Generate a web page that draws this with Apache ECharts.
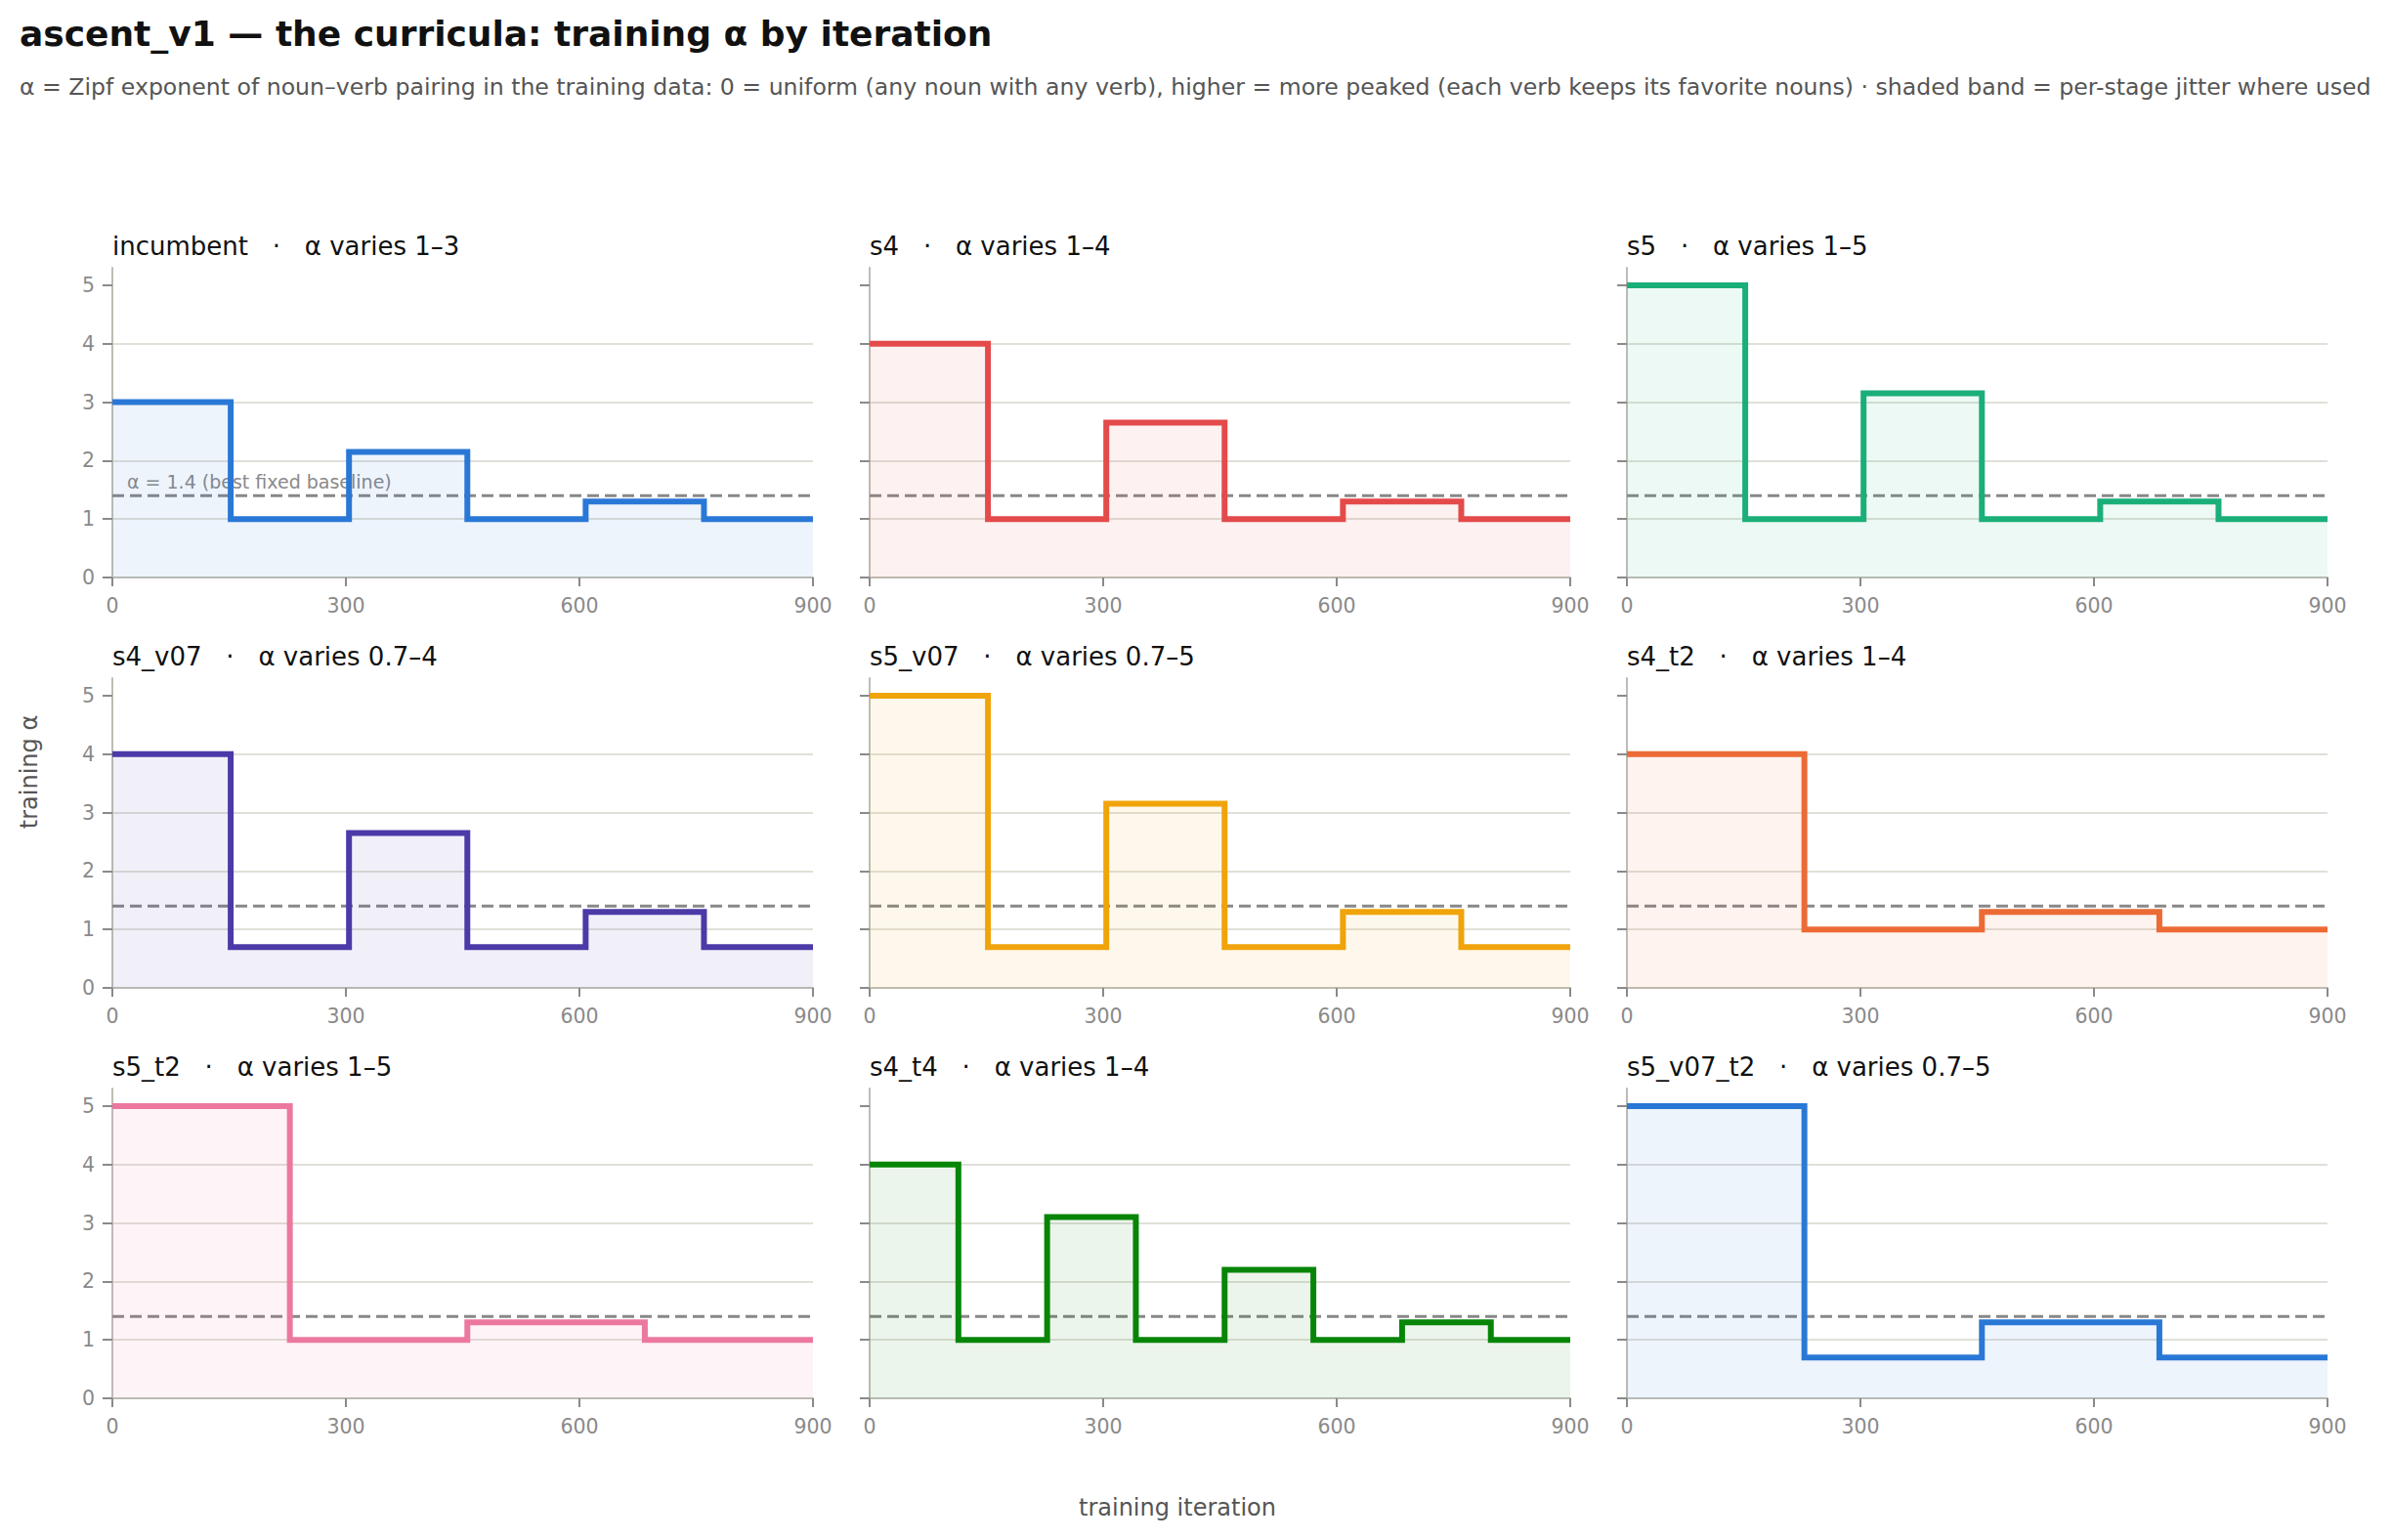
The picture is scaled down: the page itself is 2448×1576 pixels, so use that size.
<!DOCTYPE html>
<html><head><meta charset="utf-8">
<script src="https://cdn.jsdelivr.net/npm/echarts@6/dist/echarts.min.js"></script>
<style>html,body{margin:0;padding:0;background:#fff}#c{width:2448px;height:1576px}</style>
</head><body><div id="c"></div>
<script>
// ---- data ----
const panelNames = ['incumbent','s4','s5','s4_v07','s5_v07','s4_t2','s5_t2','s4_t4','s5_v07_t2'];
const alphaRanges = ['1–3','1–4','1–5','0.7–4','0.7–5','1–4','1–5','1–4','0.7–5'];
const panelColors = ['#2a78d6','#e44a4a','#1aaf78','#4b3aa8','#f0a30a','#ec6a35','#ec78a0','#078507','#2a78d6'];
// stage start iterations (last entry = end of axis)
const itersSix = [0,152,304,456,608,760,900];
const itersFour = [0,228,456,684,900];
const itersEight = [0,114,228,342,456,570,684,798,900];
// alpha per stage (last value repeated to close the final stage)
const incumbent = [3,1,2.15,1,1.3,1,1];
const s4 = [4,1,2.65,1,1.3,1,1];
const s5 = [5,1,3.15,1,1.3,1,1];
const s4_v07 = [4,0.7,2.65,0.7,1.3,0.7,0.7];
const s5_v07 = [5,0.7,3.15,0.7,1.3,0.7,0.7];
const s4_t2 = [4,1,1.3,1,1];
const s5_t2 = [5,1,1.3,1,1];
const s4_t4 = [4,1,3.1,1,2.2,1,1.3,1,1];
const s5_v07_t2 = [5,0.7,1.3,0.7,0.7];
const panelValues = [incumbent,s4,s5,s4_v07,s5_v07,s4_t2,s5_t2,s4_t4,s5_v07_t2];
const panelIters = [itersSix,itersSix,itersSix,itersSix,itersSix,itersFour,itersFour,itersEight,itersFour];
const baselineAlpha = 1.4;
const baselineText = 'α = 1.4 (best fixed baseline)';
const xTicks = [0,300,600,900];
const yTicks = [0,1,2,3,4,5];
const titleText = 'ascent_v1 — the curricula: training α by iteration';
const subtitleText = 'α = Zipf exponent of noun–verb pairing in the training data: 0 = uniform (any noun with any verb), higher = more peaked (each verb keeps its favorite nouns) · shaded band = per-stage jitter where used';
const xName = 'training iteration';
const yName = 'training α';

// ---- chart ----
const FF = 'DejaVu Sans';
const chart = echarts.init(document.getElementById('c'), null, {renderer:'svg'});
const grids=[], xAxes=[], yAxes=[], series=[], texts=[];
const colLefts = [115, 890, 1665];
function hexA(hex,a){const n=parseInt(hex.slice(1),16);return `rgba(${n>>16&255},${n>>8&255},${n&255},${a})`;}
panelNames.forEach((name,i)=>{
  const r=Math.floor(i/3), c=i%3;
  const left=colLefts[c], top=274+420*r;
  grids.push({left:left, top:top, width:717, height:317});
  xAxes.push({type:'value', gridIndex:i, min:xTicks[0], max:xTicks[xTicks.length-1], interval:300,
    axisLine:{show:true, onZero:false, lineStyle:{color:'#bdbdb5', width:2}},
    axisTick:{show:true, length:9, lineStyle:{color:'#8a8a8a', width:2}},
    axisLabel:{color:'#8a8a8a', fontSize:20.5, margin:18, fontFamily:FF},
    splitLine:{show:false}});
  yAxes.push({type:'value', gridIndex:i, min:0, max:5.3, interval:1,
    axisLine:{show:true, onZero:false, lineStyle:{color:'#bdbdb5', width:2}},
    axisTick:{show:true, length:10, customValues:yTicks, lineStyle:{color:'#8a8a8a', width:2}},
    axisLabel:{show:c===0, customValues:yTicks, color:'#8a8a8a', fontSize:20.5, margin:18, fontFamily:FF},
    splitLine:{show:true, showMaxLine:false, lineStyle:{color:'#e0e0d8', width:2}}});
  series.push({type:'line', xAxisIndex:i, yAxisIndex:i, z:1, silent:true, symbol:'none',
    data:[[xTicks[0],baselineAlpha],[xTicks[xTicks.length-1],baselineAlpha]],
    lineStyle:{color:'#888888', width:3, type:[12,6]}});
  const iters=panelIters[i], vals=panelValues[i];
  series.push({type:'line', name:name, xAxisIndex:i, yAxisIndex:i, z:3, step:'end', symbol:'none',
    data: iters.map((x,k)=>[x, vals[k]]),
    lineStyle:{color:panelColors[i], width:6, join:'miter', cap:'butt'},
    areaStyle:{color:hexA(panelColors[i],0.11), origin:'start'}});
  texts.push({type:'text', x:left, y:top-22, z:5, silent:true,
    style:{text:name+'   ·   α varies '+alphaRanges[i], fill:'#111', font:`26px "${FF}"`, textVerticalAlign:'middle'}});
});
texts.push({type:'text', x:20, y:34, silent:true,
  style:{text:titleText, fill:'#111', font:`bold 36px "${FF}"`, textVerticalAlign:'middle'}});
texts.push({type:'text', x:20, y:88.5, silent:true,
  style:{text:subtitleText, fill:'#555', font:`23.6px "${FF}"`, textVerticalAlign:'middle'}});
texts.push({type:'text', x:1205, y:1543, silent:true,
  style:{text:xName, fill:'#555', font:`24px "${FF}"`, textAlign:'center', textVerticalAlign:'middle'}});
texts.push({type:'text', x:30, y:790, rotation:Math.PI/2, silent:true,
  style:{text:yName, fill:'#555', font:`24px "${FF}"`, textAlign:'center', textVerticalAlign:'middle'}});

chart.setOption({animation:false, backgroundColor:'#fff', textStyle:{fontFamily:FF},
  grid:grids, xAxis:xAxes, yAxis:yAxes, series:series});
const p = chart.convertToPixel({xAxisIndex:0, yAxisIndex:0}, [0, baselineAlpha]);
texts.push({type:'text', x:p[0]+15, y:p[1]-14, z:0, silent:true,
  style:{text:baselineText, fill:'#8a8a8a', font:`19px "${FF}"`, textVerticalAlign:'middle'}});
chart.setOption({graphic:{elements:texts}});
</script></body></html>
